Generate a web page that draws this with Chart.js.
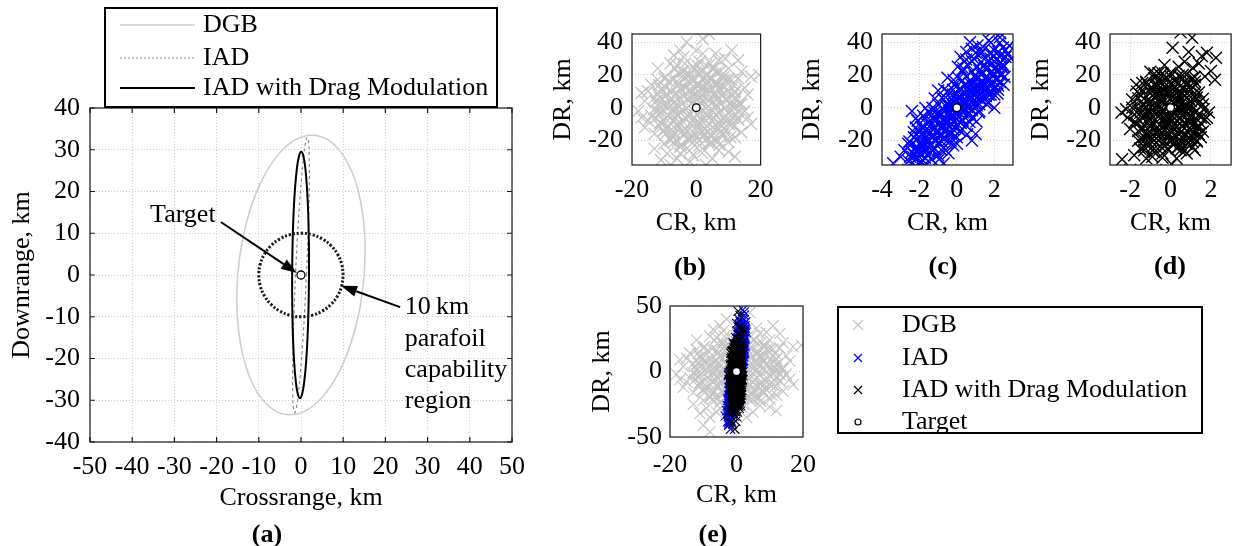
<!DOCTYPE html>
<html><head><meta charset="utf-8">
<script src="https://cdn.jsdelivr.net/npm/chart.js@4.4.0/dist/chart.umd.min.js"></script>
<style>
body{margin:0;background:#fff;width:1241px;height:546px;overflow:hidden;position:relative;font-family:'Liberation Serif','Times New Roman',serif;}
canvas{position:absolute;}
.lbl{position:absolute;font-weight:bold;font-size:26px;line-height:1;transform:translate(-50%,-50%);white-space:nowrap;color:#000;}
</style></head><body>
<canvas id="ca" width="540" height="546" style="left:0px;top:0px"></canvas>
<canvas id="cb" width="243" height="250" style="left:540px;top:0px"></canvas>
<canvas id="cc" width="240" height="250" style="left:785px;top:0px"></canvas>
<canvas id="cd" width="226" height="250" style="left:1015px;top:0px"></canvas>
<canvas id="ce" width="640" height="266" style="left:575px;top:280px"></canvas>
<div class="lbl" style="left:267px;top:534px">(a)</div>
<div class="lbl" style="left:690px;top:267px">(b)</div>
<div class="lbl" style="left:943px;top:266px">(c)</div>
<div class="lbl" style="left:1170px;top:266px">(d)</div>
<div class="lbl" style="left:713px;top:534px">(e)</div>
<script>
// ---------- DATA ----------
// Panel (a): ellipses and 10 km circle (crossrange, downrange in km)
const dgbEllCR = [15.0,15.16,14.29,12.45,9.75,6.40,2.6,-1.38,-5.25,-8.77,-11.69,-13.82,-15.0,-15.16,-14.29,-12.45,-9.75,-6.40,-2.6,1.38,5.25,8.77,11.69,13.82,15.0];
const dgbEllDR = [0,8.68,16.75,23.69,29.01,32.36,33.5,32.36,29.01,23.69,16.75,8.68,0,-8.68,-16.75,-23.69,-29.01,-32.36,-33.5,-32.36,-29.01,-23.69,-16.75,-8.68,0];
const iadEllCR = [1.3,1.64,1.88,1.98,1.95,1.79,1.5,1.11,0.65,0.14,-0.38,-0.87,-1.3,-1.64,-1.88,-1.98,-1.95,-1.79,-1.5,-1.11,-0.65,-0.14,0.38,0.87,1.3];
const iadEllDR = [0,8.55,16.5,23.33,28.58,31.88,33,31.88,28.58,23.33,16.5,8.55,0,-8.55,-16.5,-23.33,-28.58,-31.88,-33,-31.88,-28.58,-23.33,-16.5,-8.55,0];
const dmEllCR = [1.9,1.87,1.71,1.42,1.03,0.56,0.05,-0.47,-0.97,-1.41,-1.76,-1.99,-2.1,-2.07,-1.91,-1.62,-1.23,-0.76,-0.25,0.27,0.77,1.21,1.56,1.79,1.9];
const dmEllDR = [0,7.64,14.75,20.86,25.55,28.5,29.5,28.5,25.55,20.86,14.75,7.64,0,-7.64,-14.75,-20.86,-25.55,-28.5,-29.5,-28.5,-25.55,-20.86,-14.75,-7.64,0];
const circleCR = [10,9.66,8.66,7.07,5,2.59,0,-2.59,-5,-7.07,-8.66,-9.66,-10,-9.66,-8.66,-7.07,-5,-2.59,0,2.59,5,7.07,8.66,9.66,10];
const circleDR = [0,2.59,5,7.07,8.66,9.66,10,9.66,8.66,7.07,5,2.59,0,-2.59,-5,-7.07,-8.66,-9.66,-10,-9.66,-8.66,-7.07,-5,-2.59,0];
const targetCR = [0];
const targetDR = [0];

// Monte Carlo landing points (km) - DGB
const dgbCR_1 = [0.5,-3,4,-6,7,-9,2,-2,10,-12, 5,-5,12,-10,8,-8,1,-1,14,-14, 3,-4,6,-7,0,1,-3,9,-11,11,
 -6,7,4,-2,13,-13,2,-4,-9,10, 16,-16,-15,15,5,-5,3,-1,8,-8, 6,-6,0,2,12,-12,9,-10,4,-3,
 11,-11,7,-3,0,13,19.5,17,-17,-18, -11,-2,5,10,14,-14,1,-1,6,-7, 3,-5,9,-9,2,-2,12,-13,7,-6,
 4,-4,5,-8,11,8,15,-15,0,1, -10,10,3,-2,6,-7,8,-9,2,-4, 13,-12,6,-7,9,-1,4,-6,16,-16,
 0,17,-17,11,-5,3,-8,12,-13,14, 2,-10,-8,4];
const dgbDR_1 = [2,5,-6,-10,12,8,-18,20,-3,-2, 24,-24,10,18,-16,-20,28,-29,2,-5, 10,-2,1,0,-9,14,-14,5,11,-10,
 26,-26,18,-20,18,-16,33,31,-28,24, -6,4,-8,12,-12,12,-3,7,8,-6, -20,16,22,-25,-18,24,17,-14,4,-7,
 1,-9,29,40,35,29,20,19,-6,-2, -32,-33,-31,-27,-15,14,-14,16,7,-16, 26,-28,-8,2,4,-4,5,6,-3,-4,
 13,22,-17,27,17,20,-2,10,-18,9, -22,-21,-8,11,15,7,-11,-12,17,-17, -7,17,33,32,30,25,-22,-31,8,-12,
 0,-10,9,35,35,-35,-35,-30,-25,22, 42,-41,-46,45];
const dgbCR_2 = [-2.1,1.8, -7.1,-4.9,-1.2,1.0,4.8,7.2, -9.6,-7.4,-3.7,-1.5,2.4,4.6,8.3,10.6,
 -11.5,-9.4,-5.7,-3.5,0.4,2.6,6.5,8.6,11.7, -12.6,-10.4,-6.6,-4.5,-0.6,1.6,5.4,7.5,11.4,13.1,
 -13.1,-10.9,-7.1,-4.9,-1.1,1.1,4.9,7.1,10.9,13.2, -12.6,-10.4,-6.6,-4.4,-0.6,1.6,5.4,7.6,11.4,13.6,
 -12.1,-9.9,-6.1,-3.9,-0.1,2.1,5.9,8.1,11.9, -11.6,-9.4,-5.6,-3.4,0.4,2.6,6.4,8.6,11.6,
 -9.6,-7.4,-3.6,-1.4,2.4,4.6,8.4,10.2, -6.6,-4.4,-0.6,1.6,5.4,7.6, -3.6,0.4,4.4];
const dgbDR_2 = [-26.2,-27.6, -21.2,-22.8,-21.6,-23.1,-21.4,-22.6, -16.1,-17.8,-16.6,-18.1,-16.4,-17.7,-16.2,-17.9,
 -11.2,-12.9,-11.6,-12.8,-11.3,-12.7,-11.4,-12.9,-11.5, -6.3,-7.8,-6.5,-7.9,-6.2,-7.7,-6.4,-7.9,-6.2,-7.6,
 -1.2,-2.8,-1.5,-2.9,-1.3,-2.7,-1.4,-2.8,-1.2,-2.7, 3.8,2.1,3.6,2.2,3.9,2.3,3.7,2.1,3.8,2.4,
 8.9,7.2,8.7,7.1,8.8,7.3,8.6,7.2,8.9, 13.8,12.2,13.7,12.1,13.9,12.3,13.6,12.2,13.7,
 18.9,17.2,18.7,17.1,18.8,17.3,18.6,17.4, 23.8,22.2,23.7,22.1,23.9,22.3, 26.8,25.6,26.9];
const dgbCR_3 = [-8.2,-5.8,-2.2,0.8,3.2,6.8, -10.3,-6.7,-4.2,-0.7,1.8,5.3,7.8, -11.2,-7.8,-5.1,-1.8,0.9,4.2,6.9,10.1,
 -11.8,-8.7,-5.9,-2.7,0.2,3.3,6.1,9.3,12.1, -11.9,-8.8,-5.8,-2.9,0.3,3.1,6.2,9.1,12.2,
 -11.3,-8.2,-5.3,-2.2,0.8,3.7,6.8,9.7,12.4, -10.8,-7.6,-4.8,-1.7,1.2,4.3,7.2,10.3,
 -8.6,-5.4,-2.6,0.6,3.4,6.6,9.4, -5.7,-2.4,0.7,3.6,6.3];
const dgbDR_3 = [-19.0,-20.2,-19.3,-20.1,-19.2,-20.3, -14.1,-15.2,-14.0,-15.1,-14.2,-15.0,-14.3, -9.0,-10.1,-9.2,-10.2,-9.1,-10.3,-9.2,-10.0,
 -4.1,-5.2,-4.0,-5.1,-4.2,-5.0,-4.3,-5.2,-4.0, 1.0,-0.2,1.1,-0.1,0.9,-0.2,1.2,0.0,0.8,
 6.1,4.9,6.0,4.8,6.2,4.9,6.1,4.8,6.0, 11.1,9.9,11.0,9.8,11.2,9.9,11.1,9.8,
 16.0,14.9,16.1,14.8,16.2,14.9,16.0, 21.1,19.9,21.0,20.1,21.2];

// IAD
const iadCR_1 = [-3.4,-3.0,-2.8,-2.6,-2.5,-2.4,-2.3,-2.2,-2.1,-2.0, -2.0,-1.9,-1.9,-1.8,-1.8,-1.7,-1.7,-1.6,-1.6,-1.5,
 -1.5,-1.5,-1.4,-1.4,-1.3,-1.3,-1.2,-1.2,-1.1,-1.1, -1.0,-1.0,-1.0,-0.9,-0.9,-0.8,-0.8,-0.8,-0.7,-0.7,
 -0.6,-0.6,-0.6,-0.5,-0.5,-0.5,-0.4,-0.4,-0.3,-0.3, -0.2,-0.2,-0.2,-0.1,-0.1,-0.1,0.0,0.0,0.0,0.1,
 0.1,0.1,0.2,0.2,0.3,0.3,0.3,0.4,0.4,0.5, 0.5,0.5,0.6,0.6,0.7,0.7,0.8,0.8,0.8,0.9,
 0.9,1.0,1.0,1.1,1.1,1.2,1.2,1.3,1.3,1.4, 1.4,1.5,1.5,1.6,1.6,1.7,1.7,1.8,1.8,1.9,
 2.0,2.0,2.1,2.2,2.2,2.3,2.4,2.5,2.6,2.7, 2.9,2.8,2.5,1.0,0.8,2.0,1.8,0.35,0.2,0.5,
 1.1,0.8,-2.3,-1.8,-2.6,-1.5,1.9,2.3,-0.3,0.2, 0.6,-0.7,1.0,-1.2,0.4,1.4,0.7];
const iadDR_1 = [-34,-30,-26,-22,-30,-2,-15,-25,-8,-18, -28,-12,-33,-22,-5,-16,-27,-10,-20,-3,
 -14,-24,-31,-8,-18,0,-12,-25,-6,-20, 2,-15,-29,-9,-22,6,-4,-17,-12,-34,
 1,-7,-26,10,-13,-20,-2,4,-10,-16, 8,-5,-23,14,0,-12,5,-7,-18,11,
 -3,18,2,-14,7,22,-8,14,-1,4, 19,-11,10,26,0,15,6,22,-6,12,
 30,3,18,9,25,14,-2,20,33,7, 16,24,11,28,2,41,18,13,30,22,
 8,35,17,26,11,31,20,25,35,33, 30,38,14,-16,-20,0,8,24,31,34,
 38,36,-40,-44,-38,-38,47,43,3,-9, 2,-1,10,-3,28,37,40];
const iadCR_2 = [-2.45,-2.58,-2.4,-2.54, -2.2,-2.33,-2.15,-2.29, -1.95,-2.08,-1.9,-2.04, -1.7,-1.83,-1.65,-1.79,
 -1.45,-1.58,-1.4,-1.54, -1.2,-1.33,-1.15,-1.29, -0.95,-1.08,-0.9,-1.04, -0.7,-0.83,-0.65,-0.79,
 -0.45,-0.58,-0.4,-0.54, -0.2,-0.33,-0.15,-0.29, 0.05,-0.08,0.1,-0.04, 0.3,0.17,0.35,0.21,
 0.55,0.42,0.6,0.46, 0.8,0.67,0.85,0.71, 1.05,0.92,1.1,0.96, 1.3,1.17,1.35,1.21,
 1.55,1.42,1.6,1.46, 1.8,1.67,1.85,1.71, 2.05,1.92,2.1,1.96, 2.3,2.17,2.35,2.21, 2.55,2.42,2.6,2.46];
const iadDR_2 = [-38.8,-32.7,-26.9,-20.6, -35.5,-30.2,-23.6,-18.1, -33.4,-26.8,-21.2,-14.6, -30.6,-24.3,-17.8,-12.4,
 -27.0,-21.6,-15.1,-9.0, -24.8,-18.1,-12.6,-6.2, -21.3,-15.8,-9.2,-3.7, -18.9,-12.4,-6.8,-0.3,
 -15.6,-9.9,-3.4,2.1, -13.1,-6.7,-0.6,5.3, -10.2,-3.8,2.4,7.9, -7.4,-1.3,4.7,11.2,
 -4.1,1.9,7.6,13.9, -1.6,4.8,10.4,16.7, 1.3,7.6,13.8,19.2, 4.6,10.1,16.3,22.7,
 7.1,13.4,19.0,25.6, 10.2,16.0,22.3,28.4, 12.8,19.3,24.9,31.2, 15.7,21.8,27.6,34.1, 18.9,24.4,31.0,36.8];
const iadCR_3 = [-2.44,-2.31,-2.41, -2.19,-2.06,-2.16, -1.94,-1.81,-1.91, -1.69,-1.56,-1.66, -1.44,-1.31,-1.41,
 -1.19,-1.06,-1.16, -0.94,-0.81,-0.91, -0.69,-0.56,-0.66, -0.44,-0.31,-0.41, -0.19,-0.06,-0.16,
 0.06,0.2,0.1, 0.31,0.45,0.35, 0.56,0.7,0.6, 0.81,0.95,0.85, 1.06,1.2,1.1,
 1.31,1.45,1.35, 1.56,1.7,1.6, 1.81,1.95,1.85, 2.06,2.2,2.1, 2.31,2.45,2.35];
const iadDR_3 = [-34.1,-28.6,-22.0, -31.6,-25.2,-19.7, -28.4,-22.9,-16.3, -25.9,-19.5,-13.9, -22.6,-17.1,-10.5,
 -20.1,-13.7,-8.2, -16.8,-11.3,-4.8, -14.3,-7.9,-2.4, -11.1,-5.6,0.9, -8.6,-2.2,3.4,
 -5.4,0.7,6.1, -2.9,3.1,9.4, 0.3,6.4,11.9, 2.9,8.8,15.2, 6.1,12.0,17.7,
 8.6,14.5,20.9, 11.8,17.4,23.6, 14.3,20.5,26.8, 17.6,23.1,29.5, 20.2,26.4,32.1];
const iadCR_4 = [-2.2,-2.3,-2.18,-2.33, -1.7,-1.8,-1.68,-1.83, -1.2,-1.3,-1.18,-1.33, -0.7,-0.8,-0.68,-0.83,
 -0.2,-0.3,-0.18,-0.33, 0.3,0.2,0.32,0.17, 0.8,0.7,0.82,0.67, 1.3,1.2,1.32,1.17,
 1.8,1.7,1.82,1.67, 2.3,2.2,2.32,2.17,
 -0.5,-0.45,0.05,0.0,0.5,0.55,-1.0,-0.95,1.0,1.05];
const iadDR_4 = [-12.1,-38.2,-6.4,-41.0, -6.5,-32.4,-0.2,-37.1, -0.8,-26.5,5.6,-31.6, 5.1,-20.8,11.2,-25.7,
 10.9,-15.1,16.9,-20.2, 16.6,-9.4,22.7,-14.3, 22.3,-3.6,28.3,-8.6, 28.1,2.1,34.2,-2.9,
 33.8,7.9,39.8,2.9, 39.6,13.6,45.5,8.6,
 18.3,-27.8,25,-22,29.5,-16.3,10.5,-31.5,33.5,-8.5];

// IAD with drag modulation
const dmCR_1 = [0.2,-0.4,0.6,-0.8,0.9,-1.1,0.3,-0.2,1.2,-1.3, 0.1,-0.6,0.7,-0.9,1.0,0.4,-0.1,0.8,-0.5,0.5,
 -1.0,1.3,-1.2,0.0,-0.3,0.6,-0.7,1.1,0.2,-0.4, 0.9,-1.4,0.3,-0.8,1.2,-0.2,0.7,-0.6,0.1,-1.0,
 1.4,-0.1,0.5,-0.9,0.4,1.0,-0.3,0.8,-1.2,0.0, 0.6,-0.5,1.3,-1.5,0.2,-0.7,0.9,-0.2,1.5,-1.1,
 0.3,-0.4,1.1,-1.6,0.7,-0.6,0.0,1.6,-1.3,0.5, 1.07,1.8,2.25,1.55,0.1,1.1,2.0,1.4,0.7,1.7,
 0.4,-0.3,2.2,0.9,-2.43,-2.13,-1.9,-2.2,-1.8,-2.4, -1.8,-1.5,-1.2,-1.6,-0.9,0.06,-0.4,0.3,1.64,1.4,
 1.1,1.5,1.7,1.2,-1.2,-1.66,-1.4,-0.4,-1.0,-1.9, -1.7,0.8,1.9,-2.0,-1.2,-0.5,-2.0,-0.2,0.5,
 0.0,-0.9,0.5,-0.3,1.0,-1.0,0.3,-0.6,0.8,-0.2, 0.6,-1.3,1.2,-0.8,0.2,-1.4,0.9,0.1,-0.5,1.3];
const dmDR_1 = [3,-2,-5,6,10,-8,-12,14,-3,2, -18,-15,16,12,-14,8,-7,1,9,-20,
 -20,6,15,19,-23,12,-4,-8,-3,5, -18,-12,16,18,14,-10,-10,0,7,3,
 -16,-16,0,-24,-24,4,10,-22,-4,-13, 20,-19,-12,8,12,14,-1,1,-6,-16,
 -8,-28,18,-2,7,21,-1,2,-26,-26, 42.7,33.5,30.5,31.5,36.6,24.4,22.4,27,28,19,
 25,26,17,34,-3,-6,0,-1,-9,-31.5, -29,-25,-31,-20,-30,-34.5,-30.5,-31,-1,-11,
 -21,-18,-7,-26,-17,9.8,15,21,22,5, 14,-28,-3,-13,-40,-44,-38,-38,46,
 10,-1,-15,-6,-5,-11,4,9,14,18, -2,-20,9,-27,-22,-6,-9,-5,4,-20];
const dmCR_2 = [-1.3,-0.9,-0.5,-0.1,0.3,0.7,1.1, -1.5,-1.1,-0.7,-0.3,0.1,0.5,0.9,1.3,
 -1.6,-1.2,-0.8,-0.4,0,0.4,0.8,1.2,1.6, -1.7,-1.3,-0.9,-0.5,-0.1,0.3,0.7,1.1,1.5,
 -1.8,-1.4,-1.0,-0.6,-0.2,0.2,0.6,1.0,1.4,1.8, -1.7,-1.3,-0.9,-0.5,-0.1,0.3,0.7,1.1,1.5,
 -1.6,-1.2,-0.8,-0.4,0,0.4,0.8,1.2,1.6, -1.4,-1.0,-0.6,-0.2,0.2,0.6,1.0,1.4,
 -1.2,-0.8,-0.4,0,0.4,0.8,1.2, -0.8,-0.4,0,0.4,0.8,1.2];
const dmDR_2 = [-24.2,-26.1,-23.6,-25.5,-24.8,-26.3,-24.0, -19.2,-21.1,-18.6,-20.5,-19.8,-21.3,-19.0,-20.7,
 -14.2,-16.1,-13.6,-15.5,-14.8,-16.3,-14.0,-15.7,-14.5, -9.2,-11.1,-8.6,-10.5,-9.8,-11.3,-9.0,-10.7,-9.5,
 -4.2,-6.1,-3.6,-5.5,-4.8,-6.3,-4.0,-5.7,-4.5,-6.2, 0.8,-1.1,1.4,-0.5,0.2,-1.3,1.0,-0.7,0.5,
 5.8,3.9,6.4,4.5,5.2,3.7,6.0,4.3,5.5, 10.8,8.9,11.4,9.5,10.2,8.7,11.0,9.3,
 15.8,13.9,16.4,14.5,15.2,13.7,16.0, 20.8,18.9,21.4,19.5,20.2,18.7];
const dmCR_3 = [-1.1,-0.7,-0.3,0.1,0.5,0.9, -1.3,-0.9,-0.5,-0.1,0.3,0.7,1.1,
 -1.4,-1.0,-0.6,-0.2,0.2,0.6,1.0,1.4, -1.5,-1.1,-0.7,-0.3,0.1,0.5,0.9,1.3,
 -1.5,-1.1,-0.7,-0.3,0.1,0.5,0.9,1.3, -1.4,-1.0,-0.6,-0.2,0.2,0.6,1.0,1.4,
 -1.2,-0.8,-0.4,0,0.4,0.8,1.2, -1.0,-0.6,-0.2,0.2,0.6,1.0, -0.6,-0.2,0.2,0.6,1.0];
const dmDR_3 = [-23.1,-21.6,-23.7,-22.1,-22.8,-21.4, -18.1,-16.6,-18.7,-17.1,-17.8,-16.4,-18.4,
 -13.1,-11.6,-13.7,-12.1,-12.8,-11.4,-13.4,-11.9, -8.1,-6.6,-8.7,-7.1,-7.8,-6.4,-8.4,-6.9,
 -3.1,-1.6,-3.7,-2.1,-2.8,-1.4,-3.4,-1.9, 1.9,3.4,1.3,2.9,2.2,3.6,1.6,3.1,
 6.9,8.4,6.3,7.9,7.2,8.6,6.6, 11.9,13.4,11.3,12.9,12.2,13.6, 16.9,18.4,16.3,17.9,17.2];

const dgbCR = dgbCR_1.concat(dgbCR_2, dgbCR_3), dgbDR = dgbDR_1.concat(dgbDR_2, dgbDR_3);
const iadCR = iadCR_1.concat(iadCR_2, iadCR_3, iadCR_4), iadDR = iadDR_1.concat(iadDR_2, iadDR_3, iadDR_4);
const dmCR = dmCR_1.concat(dmCR_2, dmCR_3), dmDR = dmDR_1.concat(dmDR_2, dmDR_3);

// Axis ranges and tick labels
const ticksA_CR = [-50,-40,-30,-20,-10,0,10,20,30,40,50];
const ticksA_DR = [-40,-30,-20,-10,0,10,20,30,40];
const ticksB_CR = [-20,0,20];
const ticksC_CR = [-4,-2,0,2];
const ticksD_CR = [-2,0,2];
const ticksBCD_DR = [-20,0,20,40];
const ticksE_CR = [-20,0,20];
const ticksE_DR = [-50,0,50];

const seriesNames = ['DGB','IAD','IAD with Drag Modulation','Target'];
const regionText = ['10\u2009km','parafoil','capability','region'];

// ---------- RENDERING ----------
const FONT = "'Liberation Serif','Times New Roman',serif";
Chart.defaults.font.family = FONT;
Chart.defaults.font.size = 26;
Chart.defaults.color = '#000';

const C_DGB = '#c4c4c4', C_IAD = '#0000ff', C_DM = '#000000';

const pts = (xs, ys) => xs.map((x, i) => ({x: x, y: ys[i]}));

function curve(xs, ys, color, width, dash) {
  return {data: pts(xs, ys), showLine: true, pointRadius: 0, borderColor: color, borderWidth: width,
          borderDash: dash || [], tension: 0.4, fill: false};
}
function cloud(xs, ys, color, r, w) {
  return {data: pts(xs, ys), showLine: false, pointStyle: 'crossRot', pointRadius: r,
          pointBorderColor: color, pointBackgroundColor: 'rgba(0,0,0,0)', pointBorderWidth: w};
}
function target(r) {
  return {data: pts(targetCR, targetDR), showLine: false, pointStyle: 'circle', pointRadius: r,
          pointBackgroundColor: '#fff', pointBorderColor: '#000', pointBorderWidth: 1.3};
}

function frame(tickMarks) {
  return {
    id: 'frame',
    afterDatasetsDraw(chart) {
      const {ctx, chartArea: a, scales: {x, y}} = chart;
      ctx.save();
      ctx.strokeStyle = '#1a1a1a';
      ctx.lineWidth = 1.2;
      ctx.strokeRect(a.left, a.top, a.right - a.left, a.bottom - a.top);
      if (tickMarks) {
        ctx.beginPath();
        x.ticks.forEach(t => {
          const p = x.getPixelForValue(t.value);
          ctx.moveTo(p, a.bottom); ctx.lineTo(p, a.bottom - 5);
          ctx.moveTo(p, a.top); ctx.lineTo(p, a.top + 5);
        });
        y.ticks.forEach(t => {
          const p = y.getPixelForValue(t.value);
          ctx.moveTo(a.left, p); ctx.lineTo(a.left + 5, p);
          ctx.moveTo(a.right, p); ctx.lineTo(a.right - 5, p);
        });
        ctx.stroke();
      }
      ctx.restore();
    }
  };
}

function makeChart(id, o) {
  const f = {family: FONT, size: 26};
  return new Chart(document.getElementById(id), {
    type: 'scatter',
    data: {datasets: o.datasets},
    options: {
      responsive: false, animation: false, devicePixelRatio: 1, events: [],
      layout: {padding: o.pad},
      plugins: {legend: {display: false}, tooltip: {enabled: false}},
      scales: {
        x: {
          type: 'linear', position: 'bottom', min: o.xr[0], max: o.xr[1],
          afterBuildTicks: s => { s.ticks = o.xt.map(v => ({value: v})); },
          afterFit: s => { s.height = o.xH; },
          ticks: {font: f, color: '#000', padding: o.xTickPad, maxRotation: 0, minRotation: 0, autoSkip: false, callback: v => String(v)},
          grid: {color: '#cfcfcf', lineWidth: 1, drawTicks: false},
          border: {display: false, dash: [1, 2]},
          title: {display: true, text: o.xTitle, font: f, color: '#000', padding: {top: 0, bottom: o.xTitlePad}}
        },
        y: {
          type: 'linear', position: 'left', min: o.yr[0], max: o.yr[1],
          afterBuildTicks: s => { s.ticks = o.yt.map(v => ({value: v})); },
          afterFit: s => { s.width = o.yW; },
          ticks: {font: f, color: '#000', padding: o.yTickPad, autoSkip: false, callback: v => String(v)},
          grid: {color: '#cfcfcf', lineWidth: 1, drawTicks: false},
          border: {display: false, dash: [1, 2]},
          title: {display: true, text: o.yTitle, font: f, color: '#000', padding: {top: o.yTitlePad, bottom: 0}}
        }
      }
    },
    plugins: [frame(o.tickMarks)].concat(o.extra || [])
  });
}

function arrow(ctx, x1, y1, x2, y2) {
  const ang = Math.atan2(y2 - y1, x2 - x1), L = 16, W = 5.5;
  const bx = x2 - L * Math.cos(ang), by = y2 - L * Math.sin(ang);
  ctx.beginPath(); ctx.moveTo(x1, y1); ctx.lineTo(bx, by); ctx.lineWidth = 2; ctx.stroke();
  ctx.beginPath(); ctx.moveTo(x2, y2);
  ctx.lineTo(bx + W * Math.sin(ang), by - W * Math.cos(ang));
  ctx.lineTo(bx - W * Math.sin(ang), by + W * Math.cos(ang));
  ctx.closePath(); ctx.fill();
}

// ----- Panel (a) -----
const ellDGB = curve(dgbEllCR, dgbEllDR, '#cccccc', 1.5);
const ellIAD = curve(iadEllCR, iadEllDR, '#8a8a8a', 1.2, [3, 3]);
const ellDM = curve(dmEllCR, dmEllDR, '#000000', 2);
const ringA = curve(circleCR, circleDR, '#1e1e1e', 3, [2.2, 1.8]);
// Chart.js paints the first dataset on top, so list from top to bottom
const dsA = [target(4), ringA, ellDM, ellIAD, ellDGB];
const legendLinesA = [ellDGB, ellIAD, ellDM];
const annotA = {
  id: 'annotA',
  afterDraw(chart) {
    const {ctx, chartArea: a, scales: {x, y}} = chart;
    ctx.save();
    const lx = a.left + 15, ly = a.top - 100, lw = 392, lh = 99;
    ctx.fillStyle = '#fff'; ctx.fillRect(lx, ly, lw, lh);
    ctx.strokeStyle = '#000'; ctx.lineWidth = 2; ctx.strokeRect(lx, ly, lw, lh);
    const rowY = [ly + 17, ly + 50, ly + 80];
    ctx.font = "26px " + FONT; ctx.textBaseline = 'middle'; ctx.textAlign = 'left'; ctx.fillStyle = '#000';
    for (let i = 0; i < 3; i++) {
      const d = legendLinesA[i];
      ctx.beginPath();
      ctx.strokeStyle = d.borderColor; ctx.lineWidth = d.borderWidth;
      ctx.setLineDash(i === 1 ? [2, 2] : []);
      ctx.moveTo(lx + 15, rowY[i]); ctx.lineTo(lx + 90, rowY[i]); ctx.stroke();
      ctx.setLineDash([]);
      ctx.fillText(seriesNames[i], lx + 98, rowY[i]);
    }
    ctx.fillStyle = '#000'; ctx.strokeStyle = '#000';
    ctx.textAlign = 'center';
    ctx.fillText('Target', x.getPixelForValue(-28), y.getPixelForValue(14.4));
    arrow(ctx, x.getPixelForValue(-19), y.getPixelForValue(12.7), x.getPixelForValue(-0.95), y.getPixelForValue(0.48));
    arrow(ctx, x.getPixelForValue(23.5), y.getPixelForValue(-7.7), x.getPixelForValue(9.5), y.getPixelForValue(-2.6));
    ctx.textAlign = 'left';
    const ry = [-7.7, -15.3, -22.8, -30.2];
    regionText.forEach((t, i) => ctx.fillText(t, x.getPixelForValue(24.6), y.getPixelForValue(ry[i])));
    ctx.restore();
  }
};
makeChart('ca', {
  datasets: dsA, xr: [-50, 50], yr: [-40, 40], xt: ticksA_CR, yt: ticksA_DR,
  pad: {left: 0, top: 108, right: 28, bottom: 0}, yW: 90, xH: 104,
  xTickPad: 9.4, yTickPad: 10, xTitle: 'Crossrange, km', yTitle: 'Downrange, km',
  xTitlePad: 32.4, yTitlePad: 6.4, tickMarks: true, extra: [annotA]
});

// ----- Panels (b), (c), (d) -----
makeChart('cb', {
  datasets: [target(3.8), cloud(dgbCR, dgbDR, C_DGB, 8.5, 1.3)],
  xr: [-20, 20], yr: [-35, 45], xt: ticksB_CR, yt: ticksBCD_DR,
  pad: {left: 0, top: 34, right: 20, bottom: 0}, yW: 92, xH: 85,
  xTickPad: 9.4, yTickPad: 9, xTitle: 'CR, km', yTitle: 'DR, km', xTitlePad: 11.4, yTitlePad: 7.4
});
makeChart('cc', {
  datasets: [target(3.8), cloud(iadCR, iadDR, C_IAD, 8.5, 1.4)],
  xr: [-4, 3], yr: [-35, 45], xt: ticksC_CR, yt: ticksBCD_DR,
  pad: {left: 0, top: 34, right: 12, bottom: 0}, yW: 97, xH: 85,
  xTickPad: 9.4, yTickPad: 9, xTitle: 'CR, km', yTitle: 'DR, km', xTitlePad: 11.4, yTitlePad: 11.4
});
makeChart('cd', {
  datasets: [target(3.8), cloud(dmCR, dmDR, C_DM, 8.5, 1.4)],
  xr: [-3, 3], yr: [-35, 45], xt: ticksD_CR, yt: ticksBCD_DR,
  pad: {left: 0, top: 34, right: 1, bottom: 0}, yW: 95, xH: 85,
  xTickPad: 9.4, yTickPad: 9, xTitle: 'CR, km', yTitle: 'DR, km', xTitlePad: 11.4, yTitlePad: 10.4
});

// ----- Panel (e) with legend -----
const legendE = {
  id: 'legendE',
  afterDraw(chart) {
    const {ctx, chartArea: a} = chart;
    ctx.save();
    const lx = a.left + 168, ly = a.top + 1, lw = 364, lh = 126;
    ctx.fillStyle = '#fff'; ctx.fillRect(lx, ly, lw, lh);
    ctx.strokeStyle = '#000'; ctx.lineWidth = 2; ctx.strokeRect(lx, ly, lw, lh);
    const rows = [ly + 18, ly + 51, ly + 83, ly + 115];
    const mx = lx + 20;
    const cols = [C_DGB, C_IAD, C_DM];
    const hs = [5, 4, 4];
    ctx.lineWidth = 1.2;
    for (let i = 0; i < 3; i++) {
      ctx.strokeStyle = cols[i];
      ctx.beginPath();
      ctx.moveTo(mx - hs[i], rows[i] - hs[i]); ctx.lineTo(mx + hs[i], rows[i] + hs[i]);
      ctx.moveTo(mx - hs[i], rows[i] + hs[i]); ctx.lineTo(mx + hs[i], rows[i] - hs[i]);
      ctx.stroke();
    }
    ctx.strokeStyle = '#000'; ctx.fillStyle = '#fff';
    ctx.beginPath(); ctx.arc(mx, rows[3], 3, 0, Math.PI * 2); ctx.fill(); ctx.stroke();
    ctx.fillStyle = '#000'; ctx.font = "26px " + FONT; ctx.textBaseline = 'middle'; ctx.textAlign = 'left';
    seriesNames.forEach((t, i) => ctx.fillText(t, lx + 64, rows[i]));
    ctx.restore();
  }
};
makeChart('ce', {
  datasets: [target(4), cloud(dmCR, dmDR, C_DM, 6.5, 1.1), cloud(iadCR, iadDR, C_IAD, 6.5, 1.1),
             cloud(dgbCR, dgbDR, C_DGB, 8, 1.1)],
  xr: [-20, 20], yr: [-50, 50], xt: ticksE_CR, yt: ticksE_DR,
  pad: {left: 0, top: 26, right: 412, bottom: 0}, yW: 95, xH: 109,
  xTickPad: 12.4, yTickPad: 8, xTitle: 'CR, km', yTitle: 'DR, km', xTitlePad: 35.4, yTitlePad: 11.4,
  extra: [legendE]
});
</script>
</body></html>
